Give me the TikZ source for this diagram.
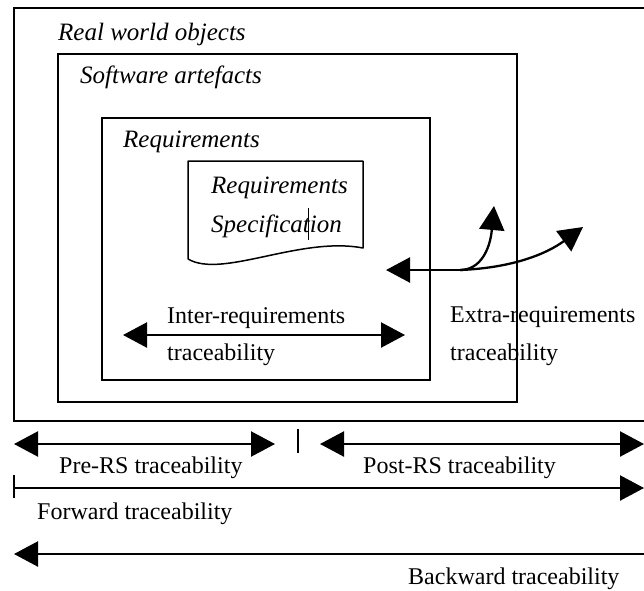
\documentclass[tikz,border=0pt]{standalone}
\usepackage{fontspec}
\setmainfont{Liberation Serif}
\usetikzlibrary{arrows.meta}
\tikzset{
  frame/.style={draw, line width=2.4pt, inner sep=0pt, anchor=north west},
  lbl/.style={anchor=base west, inner sep=0pt, font=\fontsize{24}{28}\selectfont},
  ilbl/.style={anchor=base west, inner sep=0pt, font=\fontsize{25}{29}\selectfont\itshape},
  tip/.style={Triangle[length=24pt,width=25pt]},
  conn/.style={line width=2.3pt, {Triangle[length=24pt,width=25pt]}-{Triangle[length=24pt,width=25pt]}},
  oneway/.style={line width=2.3pt, -{Triangle[length=24pt,width=25pt]}},
}
\begin{document}
\begin{tikzpicture}[x=1pt,y=-1pt]
\useasboundingbox (0,0) rectangle (644,590);

% outer frame, open on the right
\draw[line width=2.4pt] (650,8) -- (14,8) -- (14,421) -- (650,421);
\node[ilbl] (rwo) at (58,40) {Real world objects};

% nested boxes
\node[frame, minimum width=459pt, minimum height=348pt] (sw) at (57,53) {};
\node[ilbl] (swl) at (80,83) {Software artefacts};
\node[frame, minimum width=328pt, minimum height=262pt] (req) at (101,117) {};
\node[ilbl] (reql) at (123,147) {Requirements};

% requirements specification document
\draw[line width=1.5pt, line join=round]
  (188,259) -- (188,161) -- (363,161) -- (363,248)
  .. controls (300,236) and (222,279) .. (188,259);
\node[ilbl] (rs1) at (211,193) {Requirements};
\node[ilbl] (rs2) at (211,232) {Specification};
\draw[line width=1pt] (308,208) -- (308,240);

% inter-requirements traceability
\coordinate (ia) at (123,335);
\coordinate (ib) at (405,335);
\draw[conn] (ia) -- (ib);
\node[lbl] (il1) at (167,323) {Inter-requirements};
\node[lbl] (il2) at (167,360) {traceability};

% extra-requirements traceability
\coordinate (ea) at (386,270);
\coordinate (ej) at (460,270);
\coordinate (eb) at (494,206);
\coordinate (ec) at (583,227);
\draw[line width=2.3pt, {Triangle[length=24pt,width=25pt]}-] (ea) -- (ej);
\draw[oneway] (ej) .. controls (480,270) and (490,250) .. (eb);
\draw[oneway] (ej) .. controls (510,268) and (545,255) .. (ec);
\node[lbl] (el1) at (450,322) {Extra-requirements};
\node[lbl] (el2) at (450,360) {traceability};

% pre-/post-RS traceability
\coordinate (pa) at (14,444);
\coordinate (pb) at (275,444);
\coordinate (qa) at (320,444);
\coordinate (qb) at (644,444);
\coordinate (s1) at (298,429);
\coordinate (s2) at (298,453);
\draw[conn] (pa) -- (pb);
\draw[line width=2.2pt] (s1) -- (s2);
\draw[conn] (qa) -- (qb);
\node[lbl] (prl) at (59,473) {Pre-RS traceability};
\node[lbl] (pol) at (363,473) {Post-RS traceability};

% forward traceability
\coordinate (fa) at (14,488);
\coordinate (fb) at (644,488);
\coordinate (f1) at (14,475);
\coordinate (f2) at (14,498);
\draw[line width=2.2pt] (f1) -- (f2);
\draw[oneway] (fa) -- (fb);
\node[lbl] (fwl) at (37,519) {Forward traceability};

% backward traceability
\coordinate (ba) at (14,554);
\coordinate (bb) at (650,554);
\draw[oneway] (bb) -- (ba);
\node[lbl] (bwl) at (408,584) {Backward traceability};
\end{tikzpicture}
\end{document}
